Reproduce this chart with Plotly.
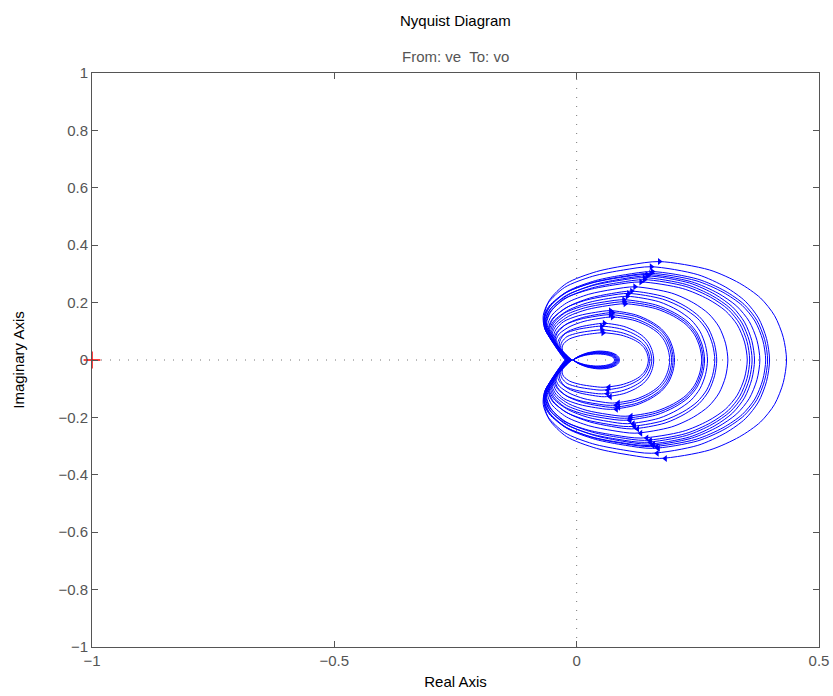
import plotly.graph_objects as go

# ---- data ----
# loops of the positive-frequency branch: right real-axis crossing, top height, left bulge, crossing point near 0
LOOP_RIGHT_X = [0.148, 0.151, 0.155, 0.159, 0.192, 0.196, 0.199, 0.202, 0.258, 0.261, 0.264, 0.270,
                0.285, 0.289, 0.312, 0.352, 0.357, 0.362, 0.367, 0.378, 0.390, 0.394, 0.398, 0.433]
LOOP_TOP_Y = [0.095, 0.105, 0.118, 0.128, 0.150, 0.158, 0.165, 0.172, 0.196, 0.203, 0.210, 0.222,
              0.232, 0.240, 0.255, 0.272, 0.280, 0.287, 0.293, 0.298, 0.302, 0.308, 0.325, 0.343]
LOOP_LEFT_X = [-0.030, -0.033, -0.036, -0.039, -0.042, -0.044, -0.046, -0.048, -0.050, -0.052, -0.054, -0.056,
               -0.057, -0.058, -0.060, -0.062, -0.063, -0.064, -0.065, -0.066, -0.067, -0.068, -0.069, -0.066]
LOOP_CUSP_X = [-0.012, -0.018, -0.022, -0.015, -0.010, -0.020, -0.014, -0.024, -0.012, -0.017, -0.021, -0.013,
               -0.019, -0.011, -0.016, -0.023, -0.014, -0.018, -0.010, -0.020, -0.015, -0.012, -0.019, -0.015]

# normalised shape of one loop (upper half, cusp -> left bulge -> top -> right crossing),
# read off the outermost loop; the lower half is its mirror image
SHAPE_U = [0.0, -0.118, -0.529, -0.941, -1.0, -0.804, -0.118, 0.125, 0.277, 0.415, 0.645, 0.783,
           0.880, 0.945, 0.985, 1.0]
SHAPE_V = [0.0, 0.035, 0.169, 0.338, 0.475, 0.609, 0.778, 0.898, 0.965, 1.0, 0.915, 0.781,
           0.630, 0.450, 0.230, 0.0]
ARROW_INDEX = 9

# the tight small loops near the origin
SMALL_RIGHT_X = [0.078, 0.080, 0.082, 0.084, 0.086, 0.088]
SMALL_TOP_Y = [0.021, 0.023, 0.025, 0.027, 0.029, 0.031]
SMALL_CUSP_X = -0.008
SMALL_U = [0.0, 0.12, 0.30, 0.55, 0.78, 0.93, 0.99, 1.0]
SMALL_V = [0.0, 0.40, 0.78, 1.0, 0.90, 0.60, 0.28, 0.0]

X_TICKS = [-1, -0.5, 0, 0.5]
X_TICKTEXT = ["\u22121", "\u22120.5", "0", "0.5"]
Y_TICKS = [-1, -0.8, -0.6, -0.4, -0.2, 0, 0.2, 0.4, 0.6, 0.8, 1]
Y_TICKTEXT = ["\u22121", "\u22120.8", "\u22120.6", "\u22120.4", "\u22120.2", "0", "0.2", "0.4", "0.6", "0.8", "1"]
CRITICAL_X = [-1]
CRITICAL_Y = [0]


def scale(us, vs, xr, yt, xl, c):
    pts = []
    for u, v in zip(us, vs):
        x = c + u * (xr - c) if u >= 0 else c + u * (c - xl)
        pts.append((x, v * yt))
    return pts


pos_x, pos_y = [], []
arrow_up_x, arrow_up_y, arrow_dn_x, arrow_dn_y = [], [], [], []

for xr, yt in zip(SMALL_RIGHT_X, SMALL_TOP_Y):
    up = scale(SMALL_U, SMALL_V, xr, yt, SMALL_CUSP_X, SMALL_CUSP_X)
    pts = up + [(x, -y) for x, y in reversed(up[:-1])]
    pos_x += [p[0] for p in pts]
    pos_y += [p[1] for p in pts]

for xr, yt, xl, c in zip(LOOP_RIGHT_X, LOOP_TOP_Y, LOOP_LEFT_X, LOOP_CUSP_X):
    up = scale(SHAPE_U, SHAPE_V, xr, yt, xl, c)
    pts = up + [(x, -y) for x, y in reversed(up[:-1])]
    pos_x += [p[0] for p in pts]
    pos_y += [p[1] for p in pts]
    ax, ay = up[ARROW_INDEX]
    arrow_up_x.append(ax)
    arrow_up_y.append(ay)
    arrow_dn_x.append(ax + 0.012)
    arrow_dn_y.append(-ay)

fig = go.Figure()

line_style = dict(color="#0000ff", width=1, shape="spline", smoothing=0.8)
fig.add_trace(go.Scatter(x=pos_x, y=pos_y, mode="lines", line=line_style, hoverinfo="skip"))
fig.add_trace(go.Scatter(x=arrow_up_x, y=arrow_up_y, mode="markers",
                         marker=dict(symbol="triangle-right", size=6, color="#0000ff"), hoverinfo="skip"))
fig.add_trace(go.Scatter(x=arrow_dn_x, y=arrow_dn_y, mode="markers",
                         marker=dict(symbol="triangle-left", size=6, color="#0000ff"), hoverinfo="skip"))
fig.add_trace(go.Scatter(x=CRITICAL_X, y=CRITICAL_Y, mode="markers", cliponaxis=False,
                         marker=dict(symbol="cross-thin", size=12, line=dict(color="#ff0000", width=1.5)),
                         hoverinfo="skip"))

# dotted axes through the origin
dot = dict(color="#777777", width=1, dash="1px,8px")
fig.add_shape(type="line", x0=-1, x1=0.5, y0=0, y1=0, layer="below", line=dot)
fig.add_shape(type="line", x0=0, x1=0, y0=-1, y1=1, layer="below", line=dot)

axis_common = dict(showline=True, linecolor="#555555", linewidth=1, mirror="ticks", ticks="inside",
                   ticklen=6, tickcolor="#555555", showgrid=False, zeroline=False, automargin=False,
                   tickfont=dict(family="Liberation Sans, Arial, sans-serif", size=15, color="#555555"))

fig.update_layout(
    width=833, height=696,
    margin=dict(l=92, r=14, t=73, b=49),
    plot_bgcolor="white", paper_bgcolor="white",
    showlegend=False,
    font=dict(family="Liberation Sans, Arial, sans-serif", size=15, color="#000000"),
    xaxis=dict(range=[-1, 0.5], tickvals=X_TICKS, ticktext=X_TICKTEXT,
               title=dict(text="Real Axis", standoff=8, font=dict(size=15, color="#000000")), **axis_common),
    yaxis=dict(range=[-1, 1], tickvals=Y_TICKS, ticktext=Y_TICKTEXT,
               title=dict(text="Imaginary Axis", standoff=30, font=dict(size=15, color="#000000")), **axis_common),
    annotations=[
        dict(text="Nyquist Diagram", x=0.5, y=1.092, xref="paper", yref="paper", showarrow=False,
             font=dict(size=15, color="#000000"), xanchor="center", yanchor="middle"),
        dict(text="From: ve  To: vo", x=0.5, y=1.0296, xref="paper", yref="paper", showarrow=False,
             font=dict(size=15, color="#555555"), xanchor="center", yanchor="middle"),
    ],
)

fig.write_html("out.html")
